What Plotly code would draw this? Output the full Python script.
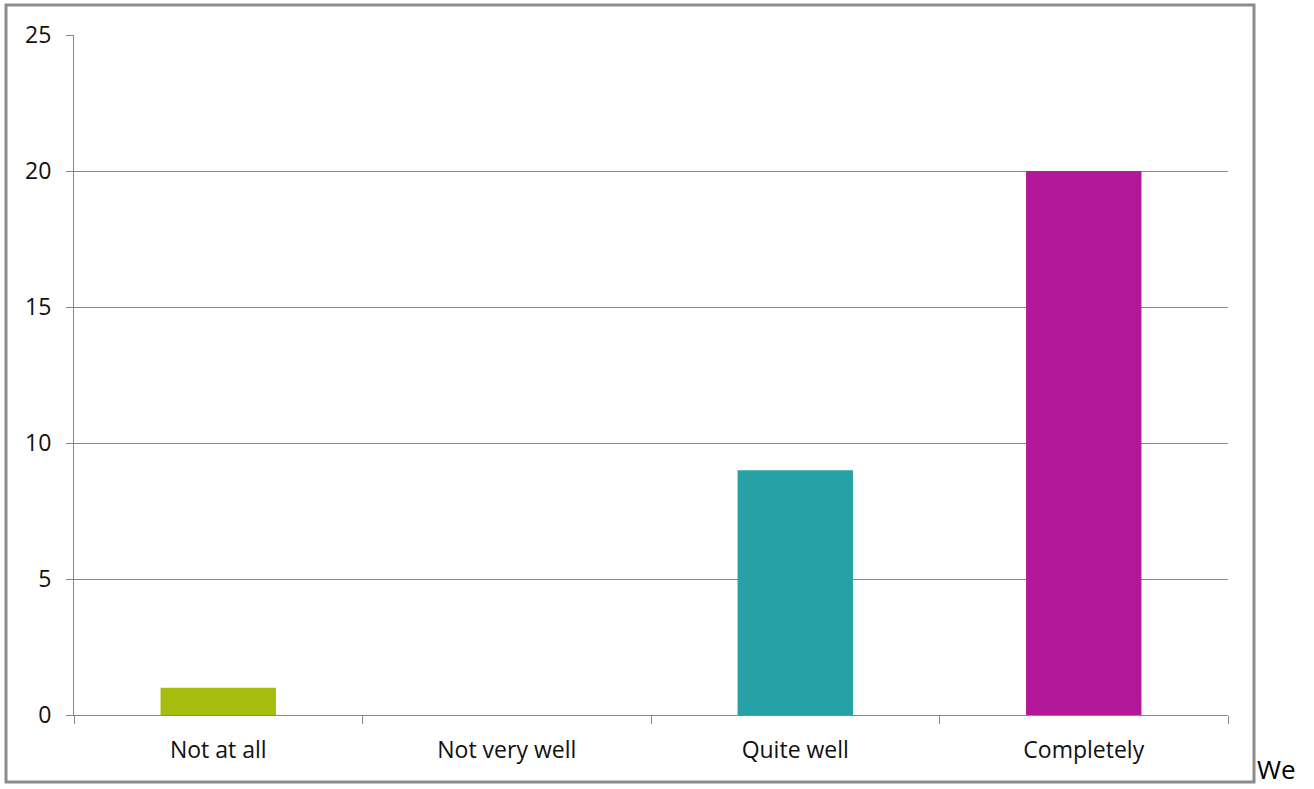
import plotly.graph_objects as go

# Survey responses
categories = ["Not at all", "Not very well", "Quite well", "Completely"]
counts = [1, 0, 9, 20]
bar_colors = ["#A7BE0E", "#E36C09", "#26A2A6", "#B3189A"]
y_ticks = [0, 5, 10, 15, 20, 25]

W, H = 1314, 789
L, R, T, B = 74, 86, 35, 74
plot_w = W - L - R
plot_h = H - T - B

def px_x(p):
    return (p - L) / plot_w

def px_y(p):
    return (H - B - p) / plot_h

grey = "#878787"
font_family = "'Open Sans', Lato, sans-serif"

fig = go.Figure(
    go.Bar(
        x=categories,
        y=counts,
        marker=dict(color=bar_colors, line=dict(width=0)),
        hoverinfo="x+y",
    )
)

fig.update_layout(
    width=W,
    height=H,
    margin=dict(l=L, r=R, t=T, b=B, pad=0),
    paper_bgcolor="white",
    plot_bgcolor="white",
    bargap=0.6,
    showlegend=False,
    font=dict(family=font_family, size=23, color="#111111"),
    xaxis=dict(
        type="category",
        showgrid=False,
        showline=True,
        linecolor=grey,
        linewidth=1,
        ticks="outside",
        tickson="boundaries",
        ticklen=8,
        tickcolor=grey,
        tickwidth=1,
        ticklabelstandoff=14,
        tickfont=dict(size=23),
        zeroline=False,
    ),
    yaxis=dict(
        range=[0, 25],
        tickvals=y_ticks,
        showgrid=True,
        gridcolor=grey,
        gridwidth=1,
        showline=True,
        linecolor=grey,
        linewidth=1,
        ticks="outside",
        ticklen=7,
        tickcolor=grey,
        tickwidth=1,
        ticklabelstandoff=10,
        tickfont=dict(size=23),
        zeroline=False,
    ),
    shapes=[
        # outer frame around the chart
        dict(
            type="rect",
            xref="paper",
            yref="paper",
            x0=px_x(6),
            x1=px_x(1254),
            y0=px_y(782),
            y1=px_y(5),
            line=dict(color="#8C8C8C", width=3),
            fillcolor="rgba(0,0,0,0)",
            layer="below",
        )
    ],
    annotations=[
        dict(
            text="We",
            xref="paper",
            yref="paper",
            x=px_x(1255),
            y=px_y(789),
            xanchor="left",
            yanchor="bottom",
            showarrow=False,
            font=dict(family=font_family, size=26, color="#000000"),
        )
    ],
)

fig.write_html("out.html")
